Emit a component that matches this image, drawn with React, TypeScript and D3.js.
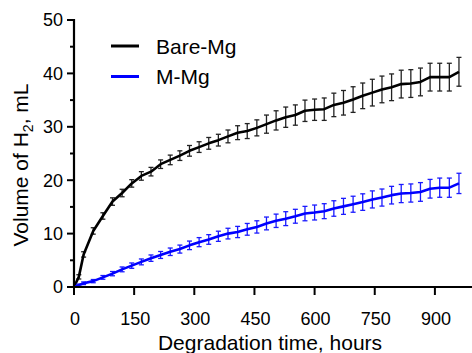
import React from "react";
import * as d3 from "d3";

const hours = [0, 12, 24, 48, 72, 96, 120, 144, 168, 192, 216, 240, 264, 288, 312, 336, 360, 384, 408, 432, 456, 480, 504, 528, 552, 576, 600, 624, 648, 672, 696, 720, 744, 768, 792, 816, 840, 864, 888, 912, 936, 960];

const bareMg = [0, 1.9, 6.1, 10.5, 13.3, 16.0, 17.6, 19.4, 20.8, 21.6, 23.0, 23.8, 24.6, 25.5, 26.2, 26.9, 27.5, 28.2, 28.9, 29.2, 29.8, 30.5, 31.2, 31.8, 32.2, 33.0, 33.2, 33.3, 34.1, 34.5, 35.1, 35.8, 36.4, 37.0, 37.4, 38.0, 38.1, 38.4, 39.3, 39.3, 39.3, 40.3];
const bareMgErr = [0, 0.4, 0.5, 0.6, 0.6, 0.7, 0.7, 0.7, 0.8, 0.8, 0.8, 0.9, 0.9, 1.0, 1.0, 1.1, 1.1, 1.2, 1.3, 1.4, 1.5, 1.7, 1.8, 1.9, 1.9, 2.0, 2.0, 2.1, 2.2, 2.3, 2.4, 2.4, 2.5, 2.5, 2.5, 2.6, 2.6, 2.6, 2.6, 2.6, 2.6, 2.7];

const mMg = [0, 0.35, 0.7, 1.1, 1.8, 2.5, 3.3, 4.0, 4.7, 5.4, 6.0, 6.6, 7.1, 7.8, 8.4, 8.9, 9.5, 10.0, 10.3, 10.8, 11.25, 11.9, 12.4, 12.8, 13.25, 13.75, 13.95, 14.2, 14.7, 15.1, 15.5, 15.9, 16.4, 16.75, 17.2, 17.5, 17.6, 17.8, 18.4, 18.6, 18.6, 19.4];
const mMgErr = [0, 0.2, 0.25, 0.3, 0.35, 0.4, 0.45, 0.5, 0.55, 0.6, 0.65, 0.7, 0.75, 0.8, 0.85, 0.9, 0.95, 1.0, 1.05, 1.1, 1.15, 1.2, 1.25, 1.3, 1.3, 1.35, 1.4, 1.4, 1.45, 1.5, 1.5, 1.55, 1.6, 1.6, 1.65, 1.7, 1.7, 1.75, 1.75, 1.8, 1.8, 1.9];

const xTicks = [0, 150, 300, 450, 600, 750, 900];
const yTicks = [0, 10, 20, 30, 40, 50];
const yMinorTicks = [5, 15, 25, 35, 45];

const seriesNames = ["Bare-Mg", "M-Mg"];
const seriesColors = ["#000000", "#0000ff"];
const errColors = ["#222222", "#1a1aff"];

const W = 472;
const H = 353;
const FONT = "'Liberation Sans', Arial, Helvetica, sans-serif";

export default function App() {
  const x = d3.scaleLinear().domain([0, 1000]).range([74, 475]);
  const y = d3.scaleLinear().domain([0, 50]).range([287, 20]);

  const line = d3
    .line<number>()
    .x((_, i) => x(hours[i]))
    .y((v) => y(v))
    .curve(d3.curveLinear);

  const series = [
    { vals: bareMg, errs: bareMgErr },
    { vals: mMg, errs: mMgErr },
  ];

  const cap = 2.5;

  return (
    <svg
      width={W}
      height={H}
      style={{ position: "absolute", left: 0, top: 0, background: "#fff" }}
      fontFamily={FONT}
    >
      <rect x={0} y={0} width={W} height={H} fill="#fff" />
      {/* series */}
      {series.map((s, si) => (
        <g key={si}>
          {s.vals.map((v, i) => {
            if (i === 0) return null;
            const cx = x(hours[i]);
            const top = y(v + s.errs[i]);
            const bot = y(v - s.errs[i]);
            return (
              <g key={i} stroke={errColors[si]} strokeWidth={1.3}>
                <line x1={cx} x2={cx} y1={top} y2={bot} />
                <line x1={cx - cap} x2={cx + cap} y1={top} y2={top} />
                <line x1={cx - cap} x2={cx + cap} y1={bot} y2={bot} />
              </g>
            );
          })}
          <path
            d={line(s.vals) || ""}
            fill="none"
            stroke={seriesColors[si]}
            strokeWidth={2.6}
            strokeLinejoin="round"
          />
        </g>
      ))}

      {/* y axis */}
      <line x1={74} x2={74} y1={y(50) - 1} y2={y(0) + 1} stroke="#000" strokeWidth={2.2} />
      {yTicks.map((t) => (
        <g key={t}>
          <line x1={67} x2={74} y1={y(t)} y2={y(t)} stroke="#000" strokeWidth={2} />
          <text x={63} y={y(t)} dy="0.35em" textAnchor="end" fontSize={18} fill="#000">
            {t}
          </text>
        </g>
      ))}
      {yMinorTicks.map((t) => (
        <line key={t} x1={70} x2={74} y1={y(t)} y2={y(t)} stroke="#000" strokeWidth={2} />
      ))}

      {/* x axis */}
      <line x1={73} x2={W} y1={y(0)} y2={y(0)} stroke="#000" strokeWidth={2.2} />
      {xTicks.map((t) => (
        <g key={t}>
          <line x1={x(t)} x2={x(t)} y1={y(0)} y2={y(0) + 8} stroke="#000" strokeWidth={2} />
          <text x={x(t) + 1} y={325} textAnchor="middle" fontSize={18} fill="#000">
            {t}
          </text>
        </g>
      ))}

      {/* axis titles */}
      <text x={270} y={350} textAnchor="middle" fontSize={21} fill="#000">
        Degradation time, hours
      </text>
      <text
        transform={`translate(28,165) rotate(-90)`}
        textAnchor="middle"
        fontSize={21}
        fill="#000"
      >
        Volume of H
        <tspan fontSize={14} dy={5}>2</tspan>
        <tspan dy={-5}>, mL</tspan>
      </text>

      {/* legend */}
      {seriesNames.map((n, i) => {
        const ly = 46 + i * 30.5;
        return (
          <g key={n}>
            <line x1={111} x2={139} y1={ly} y2={ly} stroke={seriesColors[i]} strokeWidth={3} />
            <text x={156} y={ly} dy="0.36em" fontSize={21} fill="#000">
              {n}
            </text>
          </g>
        );
      })}
    </svg>
  );
}
